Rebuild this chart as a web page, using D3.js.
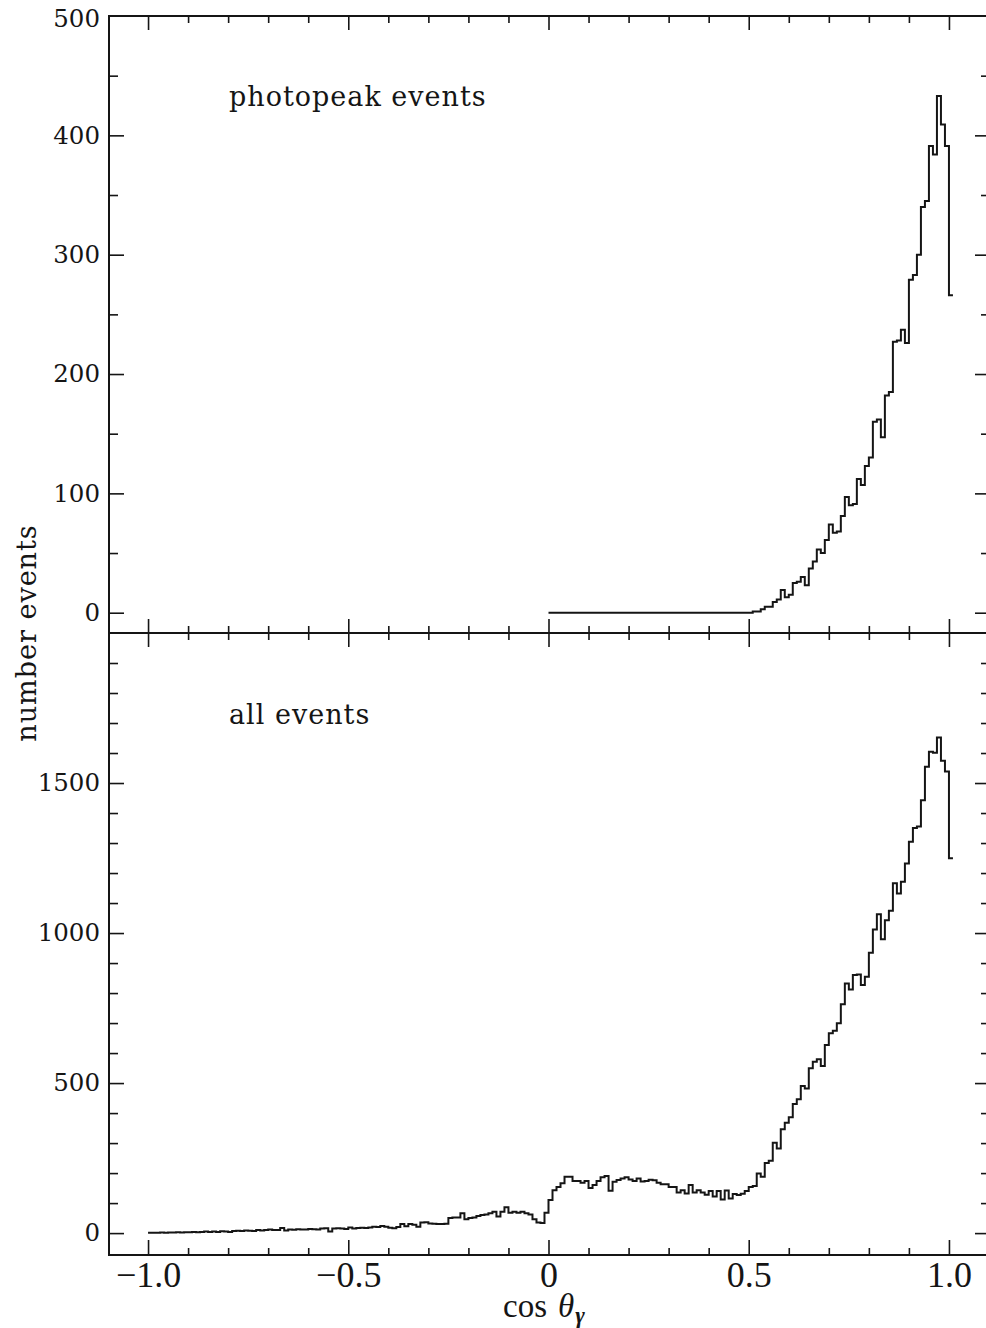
<!DOCTYPE html>
<html>
<head>
<meta charset="utf-8">
<script src="https://cdn.jsdelivr.net/npm/d3@7"></script>
<style>
  html, body { margin: 0; padding: 0; background: #fff; }
  svg { display: block; }
</style>
</head>
<body>
<svg id="chart" width="986" height="1328"></svg>
<script>
// Histogram bins: left edges of 0.01-wide bins in cos(theta_gamma)
const binWidth = 0.01;

// Photopeak events: bins starting at 0.00 ... 1.00
const photopeakStart = 0.00;
const photopeakCounts = [
  0, 0, 0, 0, 0, 0, 0, 0, 0, 0,
  0, 0, 0, 0, 0, 0, 0, 0, 0, 0,
  0, 0, 0, 0, 0, 0, 0, 0, 0, 0,
  0, 0, 0, 0, 0, 0, 0, 0, 0, 0,
  0, 0, 0, 0, 0, 0, 0, 0, 0, 0,
  0, 1, 1, 3, 5, 5, 9, 11, 19, 13,
  15, 25, 26, 30, 23, 37, 43, 53, 50, 61,
  74, 67, 68, 81, 97, 90, 91, 112, 107, 123,
  130, 160, 162, 147, 182, 185, 227, 228, 237, 226,
  279, 283, 300, 340, 345, 391, 384, 433, 409, 391,
  266
];

// All events: bins starting at -1.00 ... 1.00
const allStart = -1.00;
const allCounts = [
  1, 1, 1, 2, 1, 2, 2, 3, 2, 3,
  3, 4, 3, 4, 5, 4, 5, 4, 6, 5,
  4, 7, 8, 7, 9, 8, 7, 10, 9, 10,
  12, 10, 10, 17, 9, 12, 11, 13, 12, 12,
  14, 13, 12, 15, 16, 5, 15, 16, 15, 14,
  19, 15, 17, 18, 17, 19, 21, 20, 24, 21,
  18, 16, 20, 30, 23, 30, 28, 21, 35, 36,
  32, 31, 30, 30, 31, 50, 52, 52, 66, 46,
  50, 52, 57, 60, 62, 66, 71, 55, 71, 86,
  68, 71, 68, 71, 66, 62, 46, 35, 34, 68,
  110, 143, 154, 166, 188, 188, 174, 174, 168, 174,
  150, 160, 174, 186, 190, 141, 171, 177, 182, 186,
  179, 174, 182, 172, 174, 178, 176, 168, 163, 163,
  154, 154, 135, 143, 132, 160, 135, 143, 135, 128,
  140, 122, 140, 112, 142, 115, 130, 127, 131, 140,
  154, 157, 199, 188, 234, 241, 301, 282, 346, 368,
  386, 430, 446, 490, 482, 549, 571, 579, 557, 627,
  666, 674, 699, 763, 832, 812, 860, 862, 827, 854,
  934, 1012, 1063, 979, 1043, 1074, 1166, 1132, 1171, 1232,
  1304, 1350, 1355, 1443, 1554, 1604, 1601, 1652, 1574, 1538,
  1249
];

// Axis ticks and labels
const xMajorTicks = [-1.0, -0.5, 0, 0.5, 1.0];
const xTickLabels = ["\u22121.0", "\u22120.5", "0", "0.5", "1.0"];
const topMajorTicks = [0, 100, 200, 300, 400, 500];
const topTickLabels = ["0", "100", "200", "300", "400", "500"];
const bottomMajorTicks = [0, 500, 1000, 1500];
const bottomTickLabels = ["0", "500", "1000", "1500"];

const panelTitles = ["photopeak events", "all events"];
const yAxisTitle = "number events";

(function () {
  // ---- layout ----
  const fLeft = 109, fRight = 988, fTop = 16, fMid = 633, fBottom = 1255;
  const ink = "#151515";
  const labelFont = "'DejaVu Serif', serif";
  const axisFont = "'Liberation Serif', serif";
  const yLabelSize = 24.5;

  const svg = d3.select("#chart");

  const x = d3.scaleLinear().domain([-1.1, 1.1]).range([108, 989]);
  const yTop = d3.scaleLinear().domain([-17, 500]).range([fMid, fTop]);
  const yBot = d3.scaleLinear().domain([-73, 2000]).range([fBottom, fMid]);

  const xMinorTicks = d3.range(-10, 11).map(i => i / 10)
    .filter(v => Math.abs(v * 2 - Math.round(v * 2)) > 1e-6);
  const topMinorTicks = d3.range(50, 500, 100);
  const bottomMinorTicks = d3.range(100, 2000, 100).filter(v => v % 500 !== 0);

  // frame and divider
  svg.append("rect")
    .attr("x", fLeft).attr("y", fTop)
    .attr("width", fRight - fLeft).attr("height", fBottom - fTop)
    .attr("fill", "none").attr("stroke", ink).attr("stroke-width", 2);
  svg.append("line")
    .attr("x1", fLeft).attr("x2", fRight).attr("y1", fMid).attr("y2", fMid)
    .attr("stroke", ink).attr("stroke-width", 2);

  function styleAxis(g) {
    g.select(".domain").remove();
    g.selectAll(".tick line").attr("stroke", ink).attr("stroke-width", 1.6);
  }

  // x ticks: bottom (inward), top (inward), divider (both sides)
  function xTicks(y, orient, size, values) {
    const ax = (orient === "bottom" ? d3.axisBottom(x) : d3.axisTop(x))
      .tickValues(values).tickSize(size).tickFormat("");
    svg.append("g").attr("transform", `translate(0,${y})`).call(ax).call(styleAxis);
  }
  xTicks(fBottom, "bottom", -15, xMajorTicks);
  xTicks(fBottom, "bottom", -7, xMinorTicks);
  xTicks(fTop, "top", -14, xMajorTicks);
  xTicks(fTop, "top", -7, xMinorTicks);
  xTicks(fMid, "bottom", -14, xMajorTicks);
  xTicks(fMid, "bottom", 14, xMajorTicks);
  xTicks(fMid, "bottom", -7, xMinorTicks);
  xTicks(fMid, "bottom", 7, xMinorTicks);

  // x tick labels
  const xLab = d3.axisBottom(x).tickValues(xMajorTicks).tickSize(0).tickPadding(0)
    .tickFormat((d, i) => xTickLabels[i]);
  svg.append("g").attr("transform", `translate(0,${fBottom + 32})`).call(xLab)
    .call(g => g.select(".domain").remove())
    .call(g => g.selectAll("text")
      .attr("dy", 0)
      .attr("font-family", axisFont)
      .attr("font-size", 36)
      .attr("fill", ink));

  // y ticks for both panels, left (with labels) and right
  function yTicks(scale, major, labels, minor) {
    const lMaj = d3.axisLeft(scale).tickValues(major).tickSize(-15).tickPadding(9)
      .tickFormat((d, i) => labels[i]);
    svg.append("g").attr("transform", `translate(${fLeft},0)`).call(lMaj).call(styleAxis)
      .call(g => g.selectAll("text")
        .attr("font-family", labelFont)
        .attr("font-size", yLabelSize)
        .attr("fill", ink));
    const lMin = d3.axisLeft(scale).tickValues(minor).tickSize(-9).tickFormat("");
    svg.append("g").attr("transform", `translate(${fLeft},0)`).call(lMin).call(styleAxis);
    const rMaj = d3.axisRight(scale).tickValues(major).tickSize(-13).tickFormat("");
    svg.append("g").attr("transform", `translate(${fRight},0)`).call(rMaj).call(styleAxis);
    const rMin = d3.axisRight(scale).tickValues(minor).tickSize(-7).tickFormat("");
    svg.append("g").attr("transform", `translate(${fRight},0)`).call(rMin).call(styleAxis);
  }
  yTicks(yTop, topMajorTicks.filter(v => v < 500), topTickLabels.slice(0, 5), topMinorTicks);
  // label for the top edge value
  svg.append("text")
    .attr("x", fLeft - 9).attr("y", yTop(500) + 3).attr("dy", "0.32em")
    .attr("text-anchor", "end")
    .attr("font-family", labelFont).attr("font-size", yLabelSize).attr("fill", ink)
    .text(topTickLabels[5]);
  yTicks(yBot, bottomMajorTicks, bottomTickLabels, bottomMinorTicks);

  // histogram outlines as step lines
  function histPoints(start, counts) {
    const pts = counts.map((c, i) => [start + i * binWidth, c]);
    pts.push([start + counts.length * binWidth, counts[counts.length - 1]]);
    return pts;
  }
  function drawHist(start, counts, yScale) {
    const line = d3.line()
      .x(d => x(d[0]))
      .y(d => yScale(d[1]))
      .curve(d3.curveStepAfter);
    svg.append("path")
      .datum(histPoints(start, counts))
      .attr("d", line)
      .attr("fill", "none")
      .attr("stroke", ink)
      .attr("stroke-width", 2)
      .attr("stroke-linejoin", "miter");
  }
  drawHist(photopeakStart, photopeakCounts, yTop);
  drawHist(allStart, allCounts, yBot);

  // panel titles
  svg.append("text")
    .attr("x", 229).attr("y", 106)
    .attr("font-family", labelFont).attr("font-size", 27)
    .attr("letter-spacing", 1).attr("fill", ink)
    .text(panelTitles[0]);
  svg.append("text")
    .attr("x", 229).attr("y", 724)
    .attr("font-family", labelFont).attr("font-size", 27)
    .attr("letter-spacing", 1).attr("fill", ink)
    .text(panelTitles[1]);

  // y axis title
  svg.append("text")
    .attr("transform", `translate(36,${fMid}) rotate(-90)`)
    .attr("text-anchor", "middle")
    .attr("font-family", labelFont).attr("font-size", 27)
    .attr("letter-spacing", 1).attr("fill", ink)
    .text(yAxisTitle);

  // x axis title: cos θ_γ
  const xt = svg.append("text")
    .attr("x", 503).attr("y", 1317)
    .attr("font-family", axisFont).attr("font-size", 33).attr("fill", ink);
  xt.append("tspan").text("cos");
  xt.append("tspan").attr("font-style", "italic").attr("dx", 11).text("\u03B8");
  xt.append("tspan").attr("font-style", "italic").attr("font-weight", "bold")
    .attr("font-size", 23).attr("dx", 1).attr("dy", 6).text("\u03B3");
})();
</script>
</body>
</html>
